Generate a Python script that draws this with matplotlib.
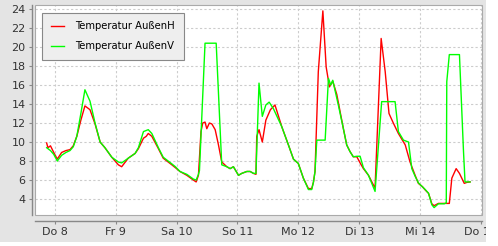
import matplotlib
matplotlib.use("Agg")
import matplotlib.pyplot as plt
from matplotlib.patches import Rectangle
from matplotlib.transforms import Bbox, TransformedBbox

# hours since Do 8 00:00
t_h = [-3.3, -2.8, -1.8, -0.5, 0.9, 2.6, 4.3, 5.9, 7.2, 8.6, 10.2, 11.8, 13.8, 15.8,
       17.8, 19.7, 22.4, 25.0, 26.3, 28.9, 31.6, 32.9, 34.9, 36.0, 36.8, 38.2, 40.8,
       42.7, 46.1, 47.5, 49.3, 52.0, 54.6, 55.7, 56.6, 57.6, 58.3, 59.2, 59.9, 60.9,
       61.9, 63.2, 64.5, 65.8, 67.8, 69.1, 70.4, 72.4, 73.7, 75.7, 77.0, 78.3, 79.3,
       79.6, 80.5, 81.8, 83.2, 85.0, 86.8, 89.5, 92.1, 94.1, 96.0, 98.0, 100.0, 101.3,
       102.0, 102.6, 103.9, 105.7, 107.0, 108.3, 109.6, 111.2, 113.8, 115.1, 116.4,
       117.7, 119.1, 120.4, 121.7, 123.7, 125.8, 126.3, 128.7, 130.3, 131.8, 133.5,
       135.5, 138.2, 140.1, 142.1, 143.4, 145.0, 146.1, 147.4, 148.7, 149.6, 151.3,
       153.6, 155.6, 156.6, 158.3, 159.6, 161.5, 162.5, 163.8]
aussen_h = [9.9, 9.4, 9.6, 8.9, 8.2, 8.9, 9.1, 9.2, 9.6, 10.6, 12.3, 13.8, 13.4, 11.9,
            10.0, 9.4, 8.4, 7.6, 7.4, 8.3, 8.8, 9.3, 10.4, 10.6, 10.9, 10.6, 9.3,
            8.3, 7.6, 7.3, 6.9, 6.5, 6.0, 5.8, 6.5, 11.1, 12.0, 12.1, 11.4, 12.0,
            11.9, 11.3, 9.7, 7.9, 7.4, 7.2, 7.4, 6.5, 6.7, 6.9, 6.9, 6.7, 6.6,
            10.6, 11.3, 10.0, 12.3, 13.4, 13.9, 11.6, 9.7, 8.2, 7.75, 6.2, 5.1, 5.1,
            5.8, 6.9, 17.4, 23.8, 17.9, 15.8, 16.4, 15.0, 11.4, 9.7, 9.0,
            8.45, 8.45, 7.8, 7.2, 6.5, 5.4, 5.2, 20.9, 17.4, 13.0, 12.0,
            10.9, 9.7, 7.9, 6.5, 5.65, 5.3, 4.95, 4.6, 3.5, 3.3, 3.54,
            3.54, 3.54, 6.2, 7.2, 6.7, 5.65, 5.75, 5.8]

t_v = [-3.3, -1.8, -0.5, 0.9, 2.6, 4.3, 5.9, 7.2, 8.6, 10.2, 11.8, 13.8, 15.8, 17.8,
       19.7, 22.4, 25.0, 26.3, 28.9, 31.6, 32.9, 34.9, 36.8, 38.2, 40.8, 42.7, 46.1,
       47.5, 49.3, 52.0, 54.6, 55.7, 56.6, 57.0, 59.2, 63.6, 65.8, 67.8, 69.1, 70.4,
       72.4, 73.7, 75.7, 77.0, 78.3, 79.3, 80.5, 81.8, 83.2, 84.5, 86.2, 89.5, 92.1,
       94.1, 96.0, 98.0, 100.0, 101.3, 102.0, 102.6, 103.3, 106.6, 107.9, 108.8,
       109.6, 111.8, 113.8, 115.1, 116.4, 117.7, 119.1, 120.4, 121.7, 123.7, 126.3,
       128.9, 134.2, 135.5, 137.5, 139.5, 140.8, 142.1, 143.4, 146.1, 147.4, 148.7,
       149.6, 151.3, 153.6, 154.4, 154.6, 155.6, 159.6, 161.2, 161.8, 163.8]
aussen_v = [9.4, 9.1, 8.7, 8.0, 8.6, 8.9, 9.1, 9.5, 10.6, 13.0, 15.5, 14.3, 12.0, 10.0,
            9.4, 8.4, 7.9, 7.8, 8.3, 8.8, 9.4, 11.1, 11.3, 10.9, 9.4, 8.4, 7.7,
            7.4, 6.9, 6.6, 6.1, 6.0, 6.6, 7.0, 20.4, 20.4, 7.6, 7.4, 7.2, 7.4,
            6.5, 6.7, 6.9, 6.9, 6.7, 6.7, 16.2, 12.7, 13.9, 14.2, 13.5, 11.6, 9.7,
            8.2, 7.75, 6.2, 5.0, 5.0, 5.8, 6.9, 10.2, 10.2, 16.7, 16.0,
            16.5, 13.9, 11.4, 9.7, 9.0, 8.45, 8.5, 8.5, 7.3, 6.5, 4.8,
            14.25, 14.25, 11.1, 10.2, 10.0, 7.2, 6.4, 5.7, 5.0, 4.6, 3.4,
            3.1, 3.5, 3.5, 3.6, 16.35, 19.2, 19.2, 9.0, 5.8, 5.8]

day_ticks = [0, 24, 48, 72, 96, 120, 144, 168]
day_labels = ["Do 8", "Fr 9", "Sa 10", "So 11", "Mo 12", "Di 13", "Mi 14", "Do 15"]
y_ticks = [4, 6, 8, 10, 12, 14, 16, 18, 20, 22, 24]

W, H = 498, 246
fig = plt.figure(figsize=(W / 100, H / 100), dpi=100, facecolor="white")
# gray chart background (leaves a thin white margin right and bottom)
gray_box = Bbox.from_extents(0, 4 / H, 486 / W, 1)
fig.patches.append(Rectangle((0, 4 / H), 486 / W, 1 - 4 / H, transform=fig.transFigure,
                             facecolor="#e4e4e4", edgecolor="none", zorder=-10))

ax = fig.add_axes([35 / W, (H - 215) / H, (482 - 35) / W, (215 - 5) / H])
ax.set_facecolor("white")
ax.plot(t_h, aussen_h, color="#ff0000", lw=1.0, label="Temperatur AußenH")
ax.plot(t_v, aussen_v, color="#00ff00", lw=1.0, label="Temperatur AußenV")

ax.set_xlim(-7.9, 168.5)
ax.set_ylim(2.32, 24.42)
ax.set_xticks(day_ticks)
ax.set_xticklabels(day_labels)
ax.set_yticks(y_ticks)
ax.grid(True, color="#cccccc", linestyle=(0, (2, 2)), lw=0.8)

for s in ["top", "right"]:
    ax.spines[s].set_visible(False)
ax.spines["left"].set_position(("outward", 2.2))
ax.spines["bottom"].set_position(("outward", 4.3))
for s in ["left", "bottom"]:
    ax.spines[s].set_color("#888888")
    ax.spines[s].set_linewidth(1.0)
ax.add_patch(Rectangle((0, 0), 1, 1, transform=ax.transAxes, fill=False,
                       edgecolor="#aaaaaa", lw=0.8, clip_on=False, zorder=5))
ax.tick_params(direction="out", length=2.5, width=0.8, color="#888888",
               labelsize=8, labelcolor="#333333", pad=2)

# last day label is cut at the chart edge
for lab in ax.get_xticklabels():
    lab.set_clip_on(True)
    lab.set_clip_box(TransformedBbox(gray_box, fig.transFigure))

leg = ax.legend(loc="upper left", bbox_to_anchor=(0.0157, 0.962), borderaxespad=0,
                fontsize=7.2, frameon=True, fancybox=False, handlelength=1.3,
                handletextpad=1.2, labelspacing=1.0, borderpad=0.85)
leg.get_frame().set_facecolor("#eeeeee")
leg.get_frame().set_edgecolor("#888888")
leg.get_frame().set_linewidth(0.8)
leg.get_frame().set_alpha(1)

fig.savefig("out.png", dpi=100, facecolor=fig.get_facecolor())
